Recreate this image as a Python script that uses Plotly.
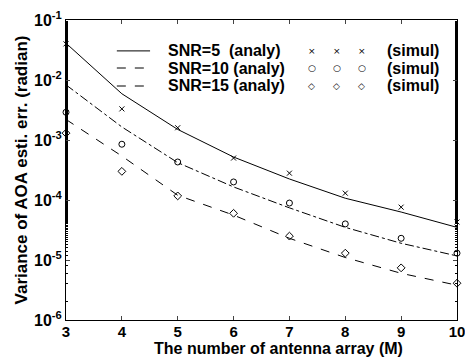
import plotly.graph_objects as go

M = [3, 4, 5, 6, 7, 8, 9, 10]
ana5 = [0.041, 5.9e-3, 1.5e-3, 5.2e-4, 2.24e-4, 1.07e-4, 6.3e-5, 3.5e-5]
sim5 = [0.040, 3.3e-3, 1.6e-3, 5.0e-4, 2.8e-4, 1.3e-4, 7.6e-5, 4.3e-5]
ana10 = [8.3e-3, 1.65e-3, 4.2e-4, 1.65e-4, 7.4e-5, 3.5e-5, 1.9e-5, 1.17e-5]
sim10 = [2.9e-3, 8.5e-4, 4.3e-4, 2.0e-4, 8.9e-5, 4.0e-5, 2.3e-5, 1.3e-5]
ana15 = [2.2e-3, 5.4e-4, 1.2e-4, 5.6e-5, 2.3e-5, 1.1e-5, 6.0e-6, 3.8e-6]
sim15 = [1.3e-3, 3.0e-4, 1.17e-4, 6.0e-5, 2.5e-5, 1.3e-5, 7.4e-6, 4.1e-6]

xticktext = ["3", "4", "5", "6", "7", "8", "9", "10"]
ytickvals = [1e-1, 1e-2, 1e-3, 1e-4, 1e-5, 1e-6]
yticktext = ["10<sup>-1</sup>", "10<sup>-2</sup>", "10<sup>-3</sup>",
             "10<sup>-4</sup>", "10<sup>-5</sup>", "10<sup>-6</sup>"]
legend_labels = ["SNR=5  (analy)", "SNR=10 (analy)", "SNR=15 (analy)"]
legend_marks = ["×", "○", "◇"]
x_title = "The number of antenna array (M)"
y_title = "Variance of AOA esti. err. (radian)"

FONT = "Liberation Sans, Arial, sans-serif"
fig = go.Figure()
fig.add_trace(go.Scatter(x=M, y=ana5, mode="lines", line=dict(color="black", width=1, dash="solid")))
fig.add_trace(go.Scatter(x=M, y=ana10, mode="lines", line=dict(color="black", width=1, dash="dashdot")))
fig.add_trace(go.Scatter(x=M, y=ana15, mode="lines", line=dict(color="black", width=1, dash="dash")))
fig.add_trace(go.Scatter(x=M, y=sim5, mode="markers", marker=dict(symbol="x-thin-open", size=5, color="black", line=dict(width=1, color="black")), cliponaxis=False))
fig.add_trace(go.Scatter(x=M, y=sim10, mode="markers", marker=dict(symbol="circle-open", size=6, color="black", line=dict(width=1, color="black")), cliponaxis=False))
fig.add_trace(go.Scatter(x=M, y=sim15, mode="markers", marker=dict(symbol="diamond-open", size=6, color="black", line=dict(width=1, color="black")), cliponaxis=False))

# legend (drawn inside the axes, MATLAB style)
rows_y = [0.897, 0.84, 0.78]
dashes = ["solid", "dash", "dash"]
mark_x = [0.629, 0.693, 0.757]
for i in range(3):
    fig.add_shape(type="line", xref="paper", yref="paper",
                  x0=0.13, x1=0.215, y0=rows_y[i], y1=rows_y[i],
                  line=dict(color="black", width=1, dash=dashes[i]))
    fig.add_annotation(xref="paper", yref="paper", x=0.255, y=rows_y[i],
                       text="<b>" + legend_labels[i] + "</b>", showarrow=False, xanchor="left",
                       yanchor="middle", font=dict(family=FONT, size=16, color="black"))
    for mx in mark_x:
        fig.add_annotation(xref="paper", yref="paper", x=mx, y=rows_y[i],
                           text=legend_marks[i], showarrow=False, xanchor="center",
                           yanchor="middle", font=dict(family="DejaVu Sans", size=9, color="black"))
    fig.add_annotation(xref="paper", yref="paper", x=0.815, y=rows_y[i],
                       text="<b>(simul)</b>", showarrow=False, xanchor="left",
                       yanchor="middle", font=dict(family=FONT, size=16, color="black"))

# x-axis title placed just under the tick labels, slightly right of centre as in the original
fig.add_annotation(xref="paper", yref="paper", x=0.5, y=0, xanchor="center", yanchor="middle",
                   xshift=17, yshift=-28, showarrow=False,
                   text="<b>" + x_title + "</b>", font=dict(family=FONT, size=16, color="black"))

# the page body has an 8px margin, so the figure is sized to fit the window exactly
fig.update_layout(
    width=465, height=351,
    margin=dict(l=58, r=16, t=12, b=39, autoexpand=False),
    paper_bgcolor="white", plot_bgcolor="white",
    showlegend=False,
    font=dict(family=FONT, size=16, color="black"),
    xaxis=dict(range=[3, 10], tickvals=M, ticktext=["<b>" + t + "</b>" for t in xticktext],
               ticks="inside", ticklen=4, ticklabelstandoff=-2,
               showline=True, linecolor="black", linewidth=1, mirror="allticks",
               showgrid=False, zeroline=False,
               tickfont=dict(family=FONT, size=15, color="black")),
    yaxis=dict(type="log", range=[-6, -1], tickvals=ytickvals,
               ticktext=["<b>" + t + "</b>" for t in yticktext],
               ticks="inside", ticklen=4,
               showline=True, linecolor="black", linewidth=1, mirror="allticks",
               showgrid=False, zeroline=False,
               minor=dict(ticks="inside", ticklen=2, tickcolor="black", showgrid=False),
               tickfont=dict(family=FONT, size=16, color="black"),
               title=dict(text="<b>" + y_title + "</b>", standoff=2,
                          font=dict(family=FONT, size=17, color="black"))),
)
fig.write_html("out.html")
